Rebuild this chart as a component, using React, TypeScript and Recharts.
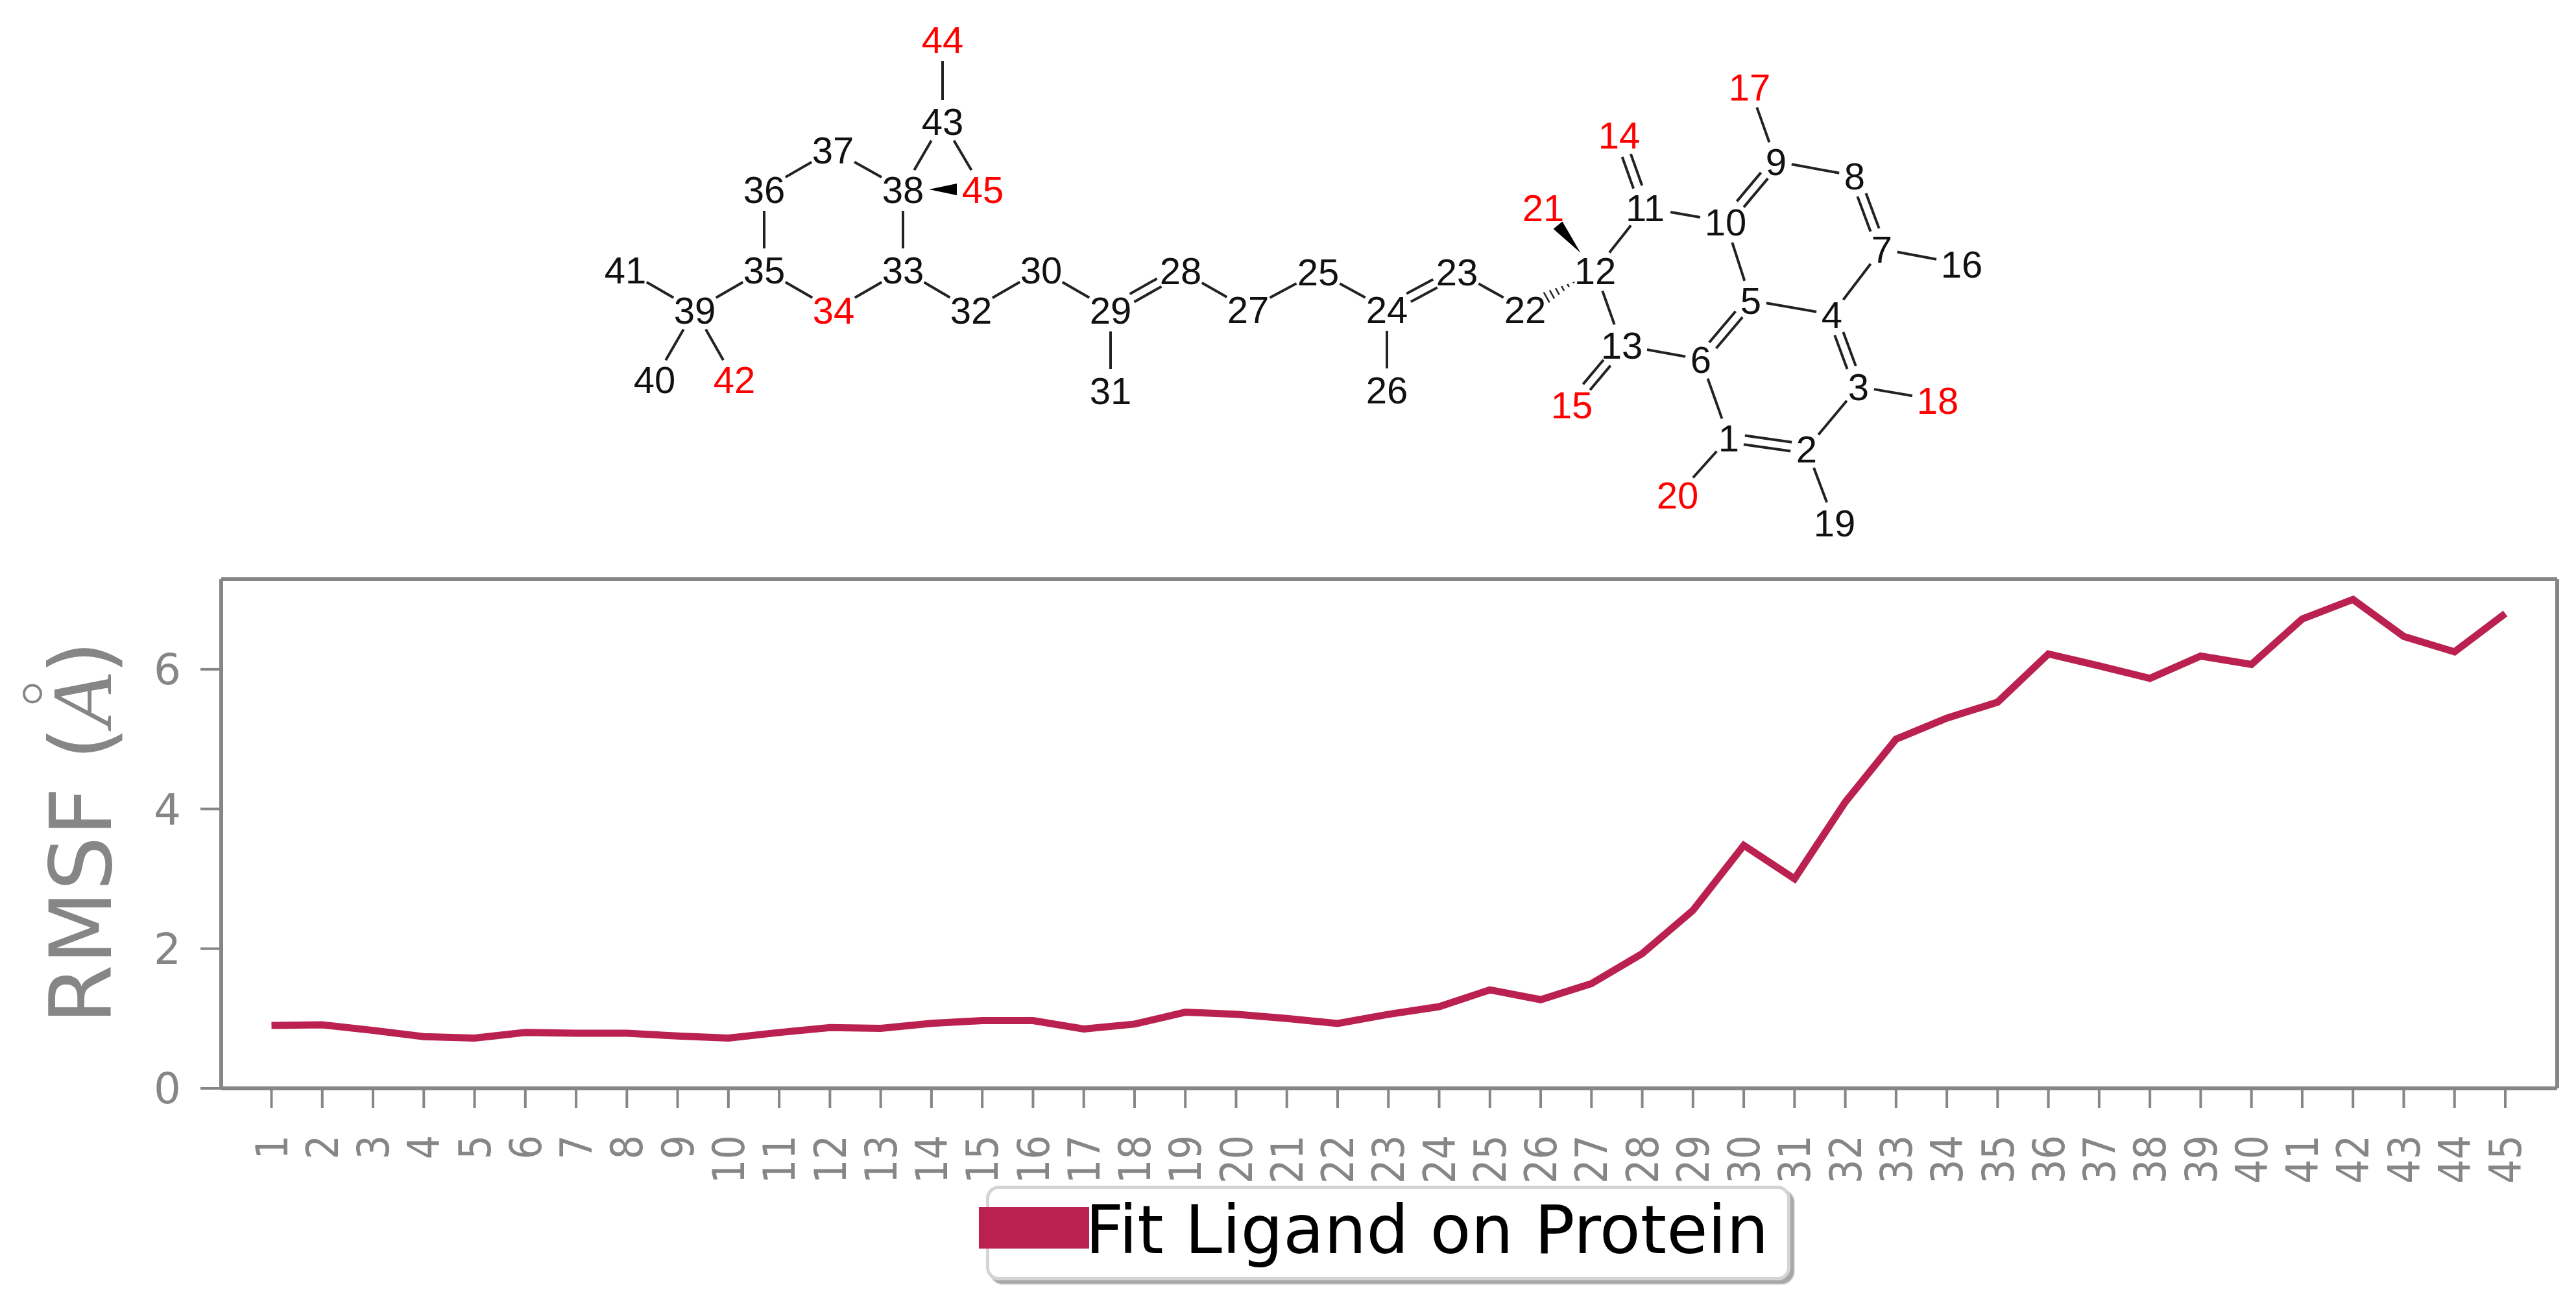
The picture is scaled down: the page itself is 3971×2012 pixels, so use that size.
import { ComposedChart, Line, XAxis, YAxis, Legend, ScatterChart, Scatter, ReferenceLine } from 'recharts'

const WIDTH = 3971
const HEIGHT = 2012

const AXIS_GRAY = '#868686'
const LINE_RED = '#bb2150'
const TICK_FONT = '"DejaVu Sans", sans-serif'

// RMSF per ligand atom
const atomNumbers = Array.from({ length: 45 }, (_, i) => String(i + 1))
const rmsfValues = [
  0.9, 0.91, 0.83, 0.74, 0.72, 0.8, 0.79, 0.79, 0.75, 0.72,
  0.8, 0.87, 0.86, 0.93, 0.97, 0.97, 0.85, 0.92, 1.09, 1.06,
  1.0, 0.93, 1.06, 1.17, 1.41, 1.27, 1.5, 1.93, 2.55, 3.48,
  3.0, 4.1, 5.0, 5.3, 5.53, 6.22, 6.05, 5.87, 6.19, 6.07,
  6.72, 7.0, 6.47, 6.25, 6.8,
]
const yTicks = [0, 2, 4, 6]
const seriesName = 'Fit Ligand on Protein'

const rmsfData = atomNumbers.map((atom, i) => ({ atom, rmsf: rmsfValues[i] }))

// 2D depiction of the ligand, atom index -> [x, y] in the structure's own units
const structureCoords: Record<number, [number, number]> = {
  1: [2665, 675], 2: [2785, 692], 3: [2865, 596], 4: [2824, 485], 5: [2699, 463],
  6: [2622, 554], 7: [2901, 384], 8: [2859, 271], 9: [2738, 249], 10: [2660, 342],
  11: [2536, 320], 12: [2459, 417], 13: [2500, 532], 14: [2496, 208], 15: [2423, 624],
  16: [3024, 407], 17: [2697, 134], 18: [2987, 617], 19: [2828, 806], 20: [2586, 763],
  21: [2379, 320], 22: [2351, 477], 23: [2246, 419], 24: [2138, 477], 25: [2032, 419],
  26: [2138, 601], 27: [1924, 477], 28: [1820, 417], 29: [1712, 478], 30: [1605, 416],
  31: [1712, 602], 32: [1497, 478], 33: [1392, 416], 34: [1285, 478], 35: [1178, 416],
  36: [1178, 292], 37: [1284, 231], 38: [1392, 292], 39: [1071, 478], 40: [1009, 585],
  41: [964, 416], 42: [1132, 585], 43: [1453, 187], 44: [1453, 61], 45: [1515, 292],
}
const redAtoms = [14, 15, 17, 18, 20, 21, 34, 42, 44, 45]
const singleBonds = [
  [44, 43], [43, 38], [43, 45], [37, 38], [36, 37], [36, 35], [38, 33], [35, 39], [35, 34],
  [34, 33], [33, 32], [32, 30], [30, 29], [41, 39], [39, 40], [39, 42], [29, 31], [28, 27],
  [27, 25], [25, 24], [24, 26], [23, 22], [12, 11], [12, 13], [11, 10], [10, 5], [9, 17],
  [9, 8], [7, 4], [7, 16], [5, 4], [13, 6], [6, 1], [1, 20], [2, 3], [2, 19], [3, 18],
]
const doubleBonds = [
  [29, 28], [24, 23], [11, 14], [10, 9], [8, 7], [6, 5], [13, 15], [4, 3], [1, 2],
]
const wedgeBonds = [[38, 45], [12, 21]]
const hashBonds = [[12, 22]]

const atomPoints = Object.entries(structureCoords).map(([id, [x, y]]) => ({ id: Number(id), x, y }))

// trim a bond so it stops short of both atom labels
function trimmedBond(a: number, b: number) {
  const [x1, y1] = structureCoords[a]
  const [x2, y2] = structureCoords[b]
  const dx = x2 - x1
  const dy = y2 - y1
  const len = Math.hypot(dx, dy)
  const gap = (id: number) => {
    const rx = id < 10 ? 24 : 40
    const ry = 33
    return 1 / Math.hypot(dx / len / rx, dy / len / ry)
  }
  const ta = gap(a) / len
  const tb = gap(b) / len
  return {
    x1: x1 + dx * ta, y1: y1 + dy * ta,
    x2: x2 - dx * tb, y2: y2 - dy * tb,
    nx: -dy / len, ny: dx / len,
  }
}

function WedgeShape({ x1, y1, x2, y2 }: any) {
  const len = Math.hypot(x2 - x1, y2 - y1) || 1
  const nx = -(y2 - y1) / len
  const ny = (x2 - x1) / len
  const w = 9
  return <polygon points={`${x1},${y1} ${x2 + nx * w},${y2 + ny * w} ${x2 - nx * w},${y2 - ny * w}`} fill="#000" />
}

function HashShape({ x1, y1, x2, y2 }: any) {
  const len = Math.hypot(x2 - x1, y2 - y1) || 1
  const nx = -(y2 - y1) / len
  const ny = (x2 - x1) / len
  const steps = [0, 0.2, 0.4, 0.6, 0.8, 1]
  return (
    <g>
      {steps.map((t) => {
        const px = x1 + (x2 - x1) * t
        const py = y1 + (y2 - y1) * t
        const w = 1 + t * 8
        return <line key={t} x1={px + nx * w} y1={py + ny * w} x2={px - nx * w} y2={py - ny * w} stroke="#222" strokeWidth={2.5} />
      })}
    </g>
  )
}

function AtomLabel({ cx, cy, payload }: any) {
  return (
    <text
      x={cx}
      y={cy}
      dy="0.36em"
      textAnchor="middle"
      fontFamily='"Liberation Sans", Arial, sans-serif'
      fontSize={58}
      fill={redAtoms.includes(payload.id) ? '#ff0000' : '#111'}
    >
      {payload.id}
    </text>
  )
}

function XTick({ x, y, payload }: any) {
  return (
    <text
      transform={`translate(${x},${y + 40}) rotate(-90) scale(0.88,1)`}
      dy="0.36em"
      textAnchor="end"
      fontFamily={TICK_FONT}
      fontSize={67}
      fill={AXIS_GRAY}
    >
      {payload.value}
    </text>
  )
}

function YTitle({ viewBox }: any) {
  const x = viewBox.x + 30
  const y = viewBox.y + viewBox.height / 2 - 2
  return (
    <g transform={`translate(${x},${y}) rotate(-90)`}>
      <text textAnchor="middle" fontFamily={TICK_FONT} fontSize={132} fill={AXIS_GRAY}>
        RMSF (<tspan fontFamily='"Liberation Serif", serif' fontStyle="italic">A</tspan>)
      </text>
      <circle cx={214} cy={-121} r={13} fill="none" stroke={AXIS_GRAY} strokeWidth={4} />
    </g>
  )
}

function LegendBox({ payload }: any) {
  const item = payload?.[0]
  if (!item) return null
  return (
    <div style={{ position: 'relative', width: 1265, height: 145 }}>
      <div
        style={{
          position: 'absolute', left: 15, top: 0, width: 1230, height: 136,
          border: '5px solid #d4d4d4', borderRadius: 20, background: '#fff',
          boxShadow: '6px 6px 2px #a8a8a8',
        }}
      />
      <div style={{ position: 'absolute', left: 4, top: 33, width: 170, height: 64, background: item.color }} />
      <div
        style={{
          position: 'absolute', left: 168, top: 3, lineHeight: '130px', whiteSpace: 'nowrap',
          fontFamily: TICK_FONT, fontSize: 103, color: '#000',
        }}
      >
        {item.value}
      </div>
    </div>
  )
}

export default function App() {
  return (
    <div style={{ position: 'absolute', left: 0, top: 0, width: WIDTH, height: HEIGHT, background: '#fff' }}>
      <div style={{ position: 'absolute', left: 0, top: 0 }}>
        <ComposedChart
          width={WIDTH}
          height={HEIGHT}
          data={rmsfData}
          margin={{ top: 892, right: 28, bottom: 184, left: 141 }}
        >
          <XAxis
            dataKey="atom"
            scale="point"
            interval={0}
            padding={{ left: 77.5, right: 80 }}
            height={150}
            tickSize={30}
            stroke={AXIS_GRAY}
            strokeWidth={6}
            tickLine={{ stroke: AXIS_GRAY, strokeWidth: 4 }}
            tick={<XTick />}
          />
          <XAxis
            xAxisId="top"
            orientation="top"
            dataKey="atom"
            scale="point"
            height={1}
            tick={false}
            tickLine={false}
            stroke={AXIS_GRAY}
            strokeWidth={6}
          />
          <YAxis
            type="number"
            domain={[0, 7.29]}
            ticks={yTicks}
            width={200}
            tickSize={32}
            tickMargin={30}
            stroke={AXIS_GRAY}
            strokeWidth={6}
            tickLine={{ stroke: AXIS_GRAY, strokeWidth: 4 }}
            tick={{ fontFamily: TICK_FONT, fontSize: 66, fill: AXIS_GRAY }}
            label={(props: any) => <YTitle {...props} />}
          />
          <YAxis
            yAxisId="right"
            orientation="right"
            width={1}
            tick={false}
            tickLine={false}
            stroke={AXIS_GRAY}
            strokeWidth={6}
          />
          <Legend
            layout="vertical"
            align="center"
            verticalAlign="middle"
            wrapperStyle={{ left: 1505, top: 1828, width: 1265 }}
            content={<LegendBox />}
          />
          <Line
            dataKey="rmsf"
            name={seriesName}
            type="linear"
            stroke={LINE_RED}
            strokeWidth={11}
            dot={false}
            isAnimationActive={false}
          />
        </ComposedChart>
      </div>
      <div style={{ position: 'absolute', left: 0, top: 0, width: WIDTH, height: 860, overflow: 'hidden' }}>
        <ScatterChart width={WIDTH} height={860} margin={{ top: 0, right: 0, bottom: 0, left: 0 }}>
          <XAxis type="number" dataKey="x" domain={[0, WIDTH]} hide />
          <YAxis type="number" dataKey="y" domain={[0, 860]} reversed hide />
          {singleBonds.map(([a, b]) => {
            const t = trimmedBond(a, b)
            return (
              <ReferenceLine
                key={`s${a}-${b}`}
                segment={[{ x: t.x1, y: t.y1 }, { x: t.x2, y: t.y2 }]}
                stroke="#222"
                strokeWidth={4}
              />
            )
          })}
          {doubleBonds.flatMap(([a, b]) => {
            const t = trimmedBond(a, b)
            return [-7, 7].map((o) => (
              <ReferenceLine
                key={`d${a}-${b}${o}`}
                segment={[
                  { x: t.x1 + t.nx * o, y: t.y1 + t.ny * o },
                  { x: t.x2 + t.nx * o, y: t.y2 + t.ny * o },
                ]}
                stroke="#222"
                strokeWidth={4}
              />
            ))
          })}
          {wedgeBonds.map(([a, b]) => {
            const t = trimmedBond(a, b)
            return (
              <ReferenceLine
                key={`w${a}-${b}`}
                segment={[{ x: t.x1, y: t.y1 }, { x: t.x2, y: t.y2 }]}
                shape={<WedgeShape />}
              />
            )
          })}
          {hashBonds.map(([a, b]) => {
            const t = trimmedBond(a, b)
            return (
              <ReferenceLine
                key={`h${a}-${b}`}
                segment={[{ x: t.x1, y: t.y1 }, { x: t.x2, y: t.y2 }]}
                shape={<HashShape />}
              />
            )
          })}
          <Scatter data={atomPoints} shape={<AtomLabel />} isAnimationActive={false} />
        </ScatterChart>
      </div>
    </div>
  )
}
